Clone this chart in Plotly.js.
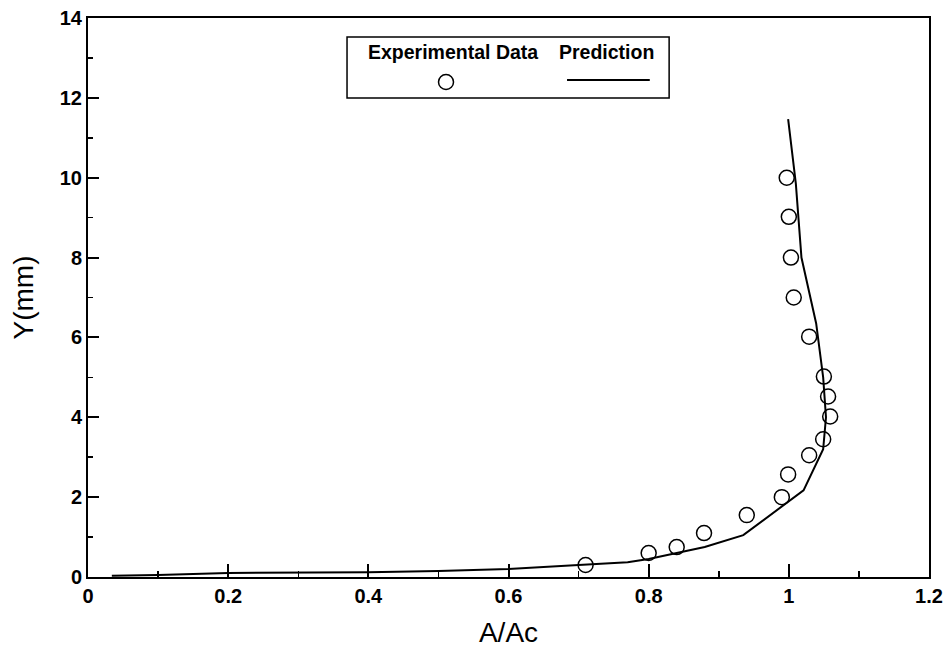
<!DOCTYPE html>
<html>
<head>
<meta charset="utf-8">
<script src="https://cdn.plot.ly/plotly-3.0.1.min.js"></script>
<style>html,body{margin:0;padding:0;background:#fff;}#chart{width:949px;height:650px;}</style>
</head>
<body>
<div id="chart"></div>
<script>
// Experimental data (open circles)
const expX = [0.71, 0.80, 0.84, 0.879, 0.94, 0.99, 0.999, 1.029, 1.049, 1.059, 1.056, 1.05, 1.029, 1.007, 1.003, 1.0, 0.997];
const expY = [0.3, 0.6, 0.75, 1.1, 1.55, 2.0, 2.57, 3.05, 3.45, 4.02, 4.52, 5.02, 6.02, 7.0, 8.0, 9.02, 10.0];

// Prediction (solid line)
const predX = [0.034, 0.1, 0.2, 0.3, 0.4, 0.5, 0.6, 0.7, 0.77, 0.8, 0.84, 0.88, 0.935, 0.987, 1.021, 1.049, 1.053, 1.049, 1.039, 1.018, 1.01, 0.999];
const predY = [0.03, 0.05, 0.1, 0.11, 0.12, 0.15, 0.2, 0.3, 0.37, 0.45, 0.6, 0.75, 1.05, 1.72, 2.17, 3.2, 4.0, 5.0, 6.35, 8.0, 9.85, 11.47];

const legendLabels = ["Experimental Data", "Prediction"];
const xTitle = "A/Ac";
const yTitle = "Y(mm)";

const tickFont = {family: "Liberation Sans, Arial, sans-serif", size: 20, color: "#000", weight: "bold"};
const legFont = {family: "Liberation Sans, Arial, sans-serif", size: 19.5, color: "#000", weight: "bold"};

const data = [
  {x: predX, y: predY, type: "scatter", mode: "lines", line: {color: "#000", width: 2}, showlegend: false, hoverinfo: "skip"},
  {x: expX, y: expY, type: "scatter", mode: "markers", marker: {symbol: "circle-open", size: 15, color: "#000", line: {width: 1.5, color: "#000"}}, showlegend: false, hoverinfo: "skip"}
];

const layout = {
  width: 949, height: 650,
  margin: {l: 88, r: 20, t: 18, b: 73},
  paper_bgcolor: "#fff", plot_bgcolor: "#fff",
  showlegend: false,
  xaxis: {
    range: [0, 1.2], dtick: 0.2, tick0: 0,
    showgrid: false, zeroline: false,
    showline: true, linecolor: "#000", linewidth: 2, mirror: true,
    ticks: "inside", ticklen: 13, tickwidth: 2, tickcolor: "#000",
    minor: {dtick: 0.1, ticks: "inside", ticklen: 6, tickwidth: 1.5, tickcolor: "#000"},
    tickfont: tickFont,
    title: {text: xTitle, font: {family: "Liberation Sans, Arial, sans-serif", size: 28, color: "#000"}, standoff: 16}
  },
  yaxis: {
    range: [0, 14], dtick: 2, tick0: 0,
    showgrid: false, zeroline: false,
    showline: true, linecolor: "#000", linewidth: 2, mirror: true,
    ticks: "inside", ticklen: 11, tickwidth: 2, tickcolor: "#000",
    minor: {dtick: 1, ticks: "inside", ticklen: 5, tickwidth: 1.5, tickcolor: "#000"},
    tickfont: tickFont,
    title: {text: yTitle, font: {family: "Liberation Sans, Arial, sans-serif", size: 28, color: "#000"}, standoff: 18}
  },
  shapes: [
    {type: "rect", xref: "paper", yref: "paper", x0: 0.308, x1: 0.691, y0: 0.857, y1: 0.966, line: {color: "#000", width: 1.5}, fillcolor: "#fff"},
    {type: "circle", xref: "paper", yref: "paper", xsizemode: "pixel", ysizemode: "pixel", xanchor: 0.4257, yanchor: 0.8855, x0: -7.5, x1: 7.5, y0: -7.5, y1: 7.5, line: {color: "#000", width: 1.5}},
    {type: "line", xref: "paper", yref: "paper", x0: 0.5696, x1: 0.668, y0: 0.889, y1: 0.889, line: {color: "#000", width: 2}}
  ],
  annotations: [
    {xref: "paper", yref: "paper", x: 0.434, y: 0.939, text: legendLabels[0], showarrow: false, xanchor: "center", yanchor: "middle", font: legFont},
    {xref: "paper", yref: "paper", x: 0.6165, y: 0.939, text: legendLabels[1], showarrow: false, xanchor: "center", yanchor: "middle", font: legFont}
  ]
};

Plotly.newPlot("chart", data, layout, {staticPlot: true, displayModeBar: false});
</script>
</body>
</html>
